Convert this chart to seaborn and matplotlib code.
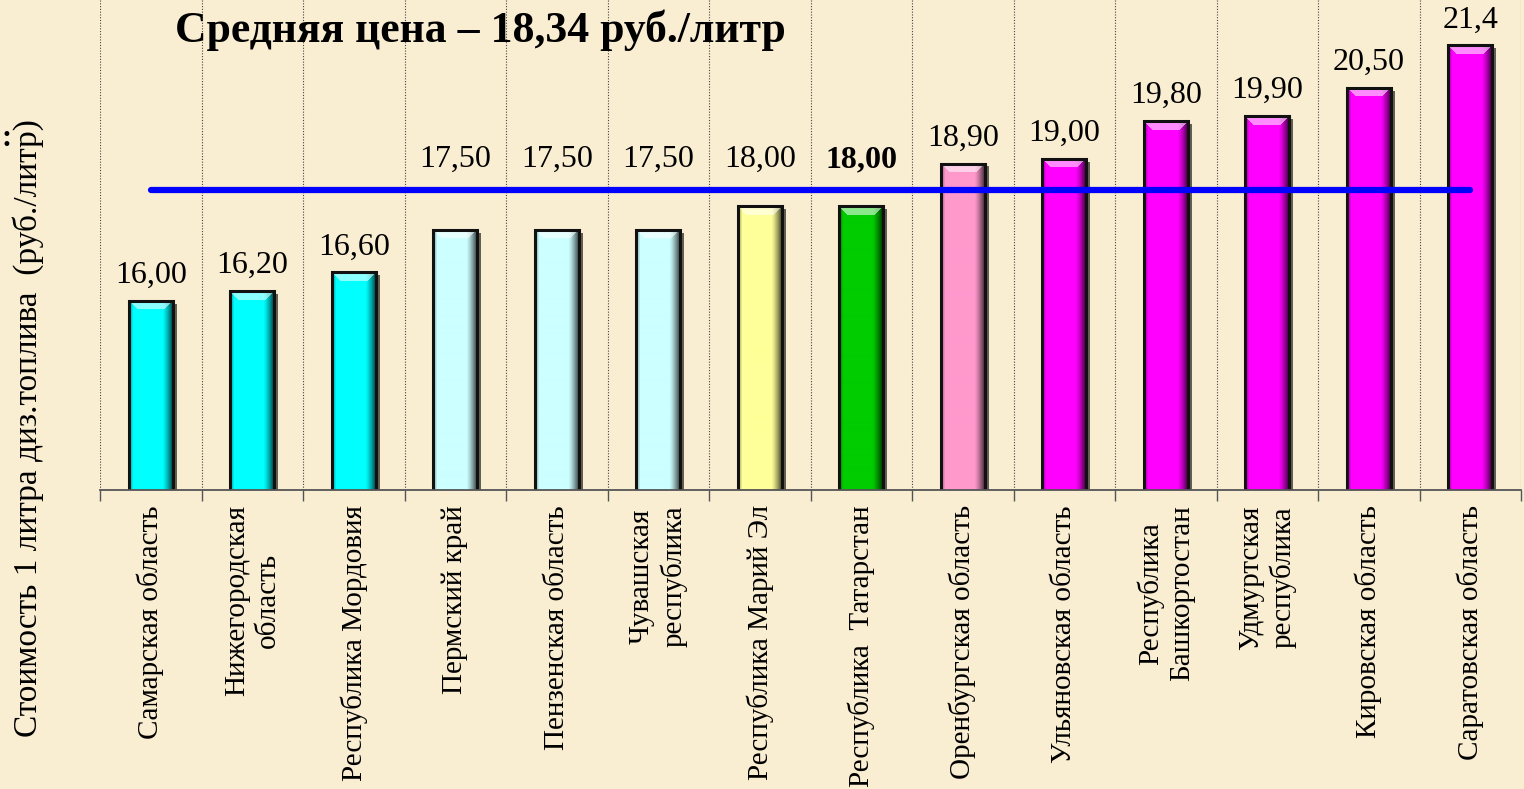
import numpy as np
import matplotlib
matplotlib.use("Agg")
import matplotlib.pyplot as plt
import matplotlib.patheffects as pe
from matplotlib.colors import to_rgb
from matplotlib.patches import Rectangle
import seaborn as sns
import pandas as pd

# ---------------- data ----------------
regions = [
    "Самарская область",
    "Нижегородская\nобласть",
    "Республика Мордовия",
    "Пермский край",
    "Пензенская область",
    "Чувашская\nреспублика",
    "Республика Марий Эл",
    "Республика  Татарстан",
    "Оренбургская область",
    "Ульяновская область",
    "Республика\nБашкортостан",
    "Удмуртская\nреспублика",
    "Кировская область",
    "Саратовская область",
]
prices = [16.00, 16.20, 16.60, 17.50, 17.50, 17.50, 18.00, 18.00,
          18.90, 19.00, 19.80, 19.90, 20.50, 21.40]
price_labels = ["16,00", "16,20", "16,60", "17,50", "17,50", "17,50", "18,00",
                "18,00", "18,90", "19,00", "19,80", "19,90", "20,50", "21,4"]
bar_colors = ["#00FFFF", "#00FFFF", "#00FFFF",
              "#CCFFFF", "#CCFFFF", "#CCFFFF",
              "#FFFF99", "#00CC00", "#FF99CC",
              "#FF00FF", "#FF00FF", "#FF00FF", "#FF00FF", "#FF00FF"]
average_price = 18.34
highlight_region = "Республика  Татарстан"
title_text = "Средняя цена – 18,34 руб./литр"
ylabel_text = "Стоимость 1 литра диз.топлива  (руб./литр)"

# ---------------- style ----------------
sns.set_theme(style="white")
plt.rcParams["font.family"] = ["Liberation Serif", "DejaVu Serif"]
BG = "#F9EDD2"

fig = plt.figure(figsize=(15.24, 7.89), dpi=100, facecolor=BG)
ax = fig.add_axes([100 / 1524, 1 - 490 / 789, 1421 / 1524, 490 / 789])
ax.set_facecolor(BG)

df = pd.DataFrame({"region": regions, "price": prices})
sns.barplot(data=df, x="region", y="price", hue="region", palette=bar_colors,
            legend=False, width=0.43, saturation=1, linewidth=0, ax=ax, zorder=2)

ax.set_xlim(-0.5, len(regions) - 0.5)
ax.set_ylim(12, 22.36)


def shade_bar(patch, color):
    x0, y0 = patch.get_x(), patch.get_y()
    w, h = patch.get_width(), patch.get_height()
    (px0, py0), (px1, py1) = ax.transData.transform([(x0, y0), (x0 + w, y0 + h)])
    W = max(int(round(px1 - px0)), 4)
    H = max(int(round(py1 - py0)), 4)
    base = np.array(to_rgb(color))
    img = np.tile(base, (H, W, 1)).astype(float)
    cols = np.arange(W)
    rows = np.arange(H)
    b = 9
    right = np.clip((cols - (W - 11)) / 11, 0, 1) ** 1.3
    left = np.clip((4 - cols) / 4, 0, 1)
    img *= (1 - 0.8 * right)[None, :, None]
    img *= (1 - 0.35 * left)[None, :, None]
    R, C = np.meshgrid(rows, cols, indexing="ij")
    top = (R < b) & (C >= R) & (C <= W - 1 - R)
    img[top] = img[top] * 0.45 + 0.55
    rb = H - 1 - R
    bot = (rb < b) & (C >= rb) & (C <= W - 1 - rb)
    img[bot] = img[bot] * 0.8
    img = np.clip(img, 0, 1)
    ax.imshow(img, extent=(x0, x0 + w, y0, y0 + h), origin="upper",
              aspect="auto", zorder=2.1, interpolation="bilinear")
    ax.add_patch(Rectangle((x0, y0), w, h, fill=False, edgecolor="#111111",
                           linewidth=2.2, zorder=2.2))


for patch, col in zip(ax.patches[:len(prices)], bar_colors):
    patch.set_facecolor(col)
    patch.set_path_effects([pe.SimplePatchShadow(offset=(3, -2),
                                                 shadow_rgbFace="#000000",
                                                 alpha=0.6), pe.Normal()])
    shade_bar(patch, col)

ax.set_xlim(-0.5, len(regions) - 0.5)
ax.set_ylim(12, 22.36)

# average line
ax.plot([0, len(regions) - 1], [average_price, average_price], color="#0000FF",
        linewidth=4.5, solid_capstyle="round", zorder=3)

# value labels
for i, (v, lab, reg) in enumerate(zip(prices, price_labels, regions)):
    weight = "bold" if reg == highlight_region else "normal"
    lo = v + 0.38
    hi = v + 0.85
    if lo < average_price + 0.12 and hi > average_price - 0.12:
        ax.annotate(lab, (i, average_price), xytext=(0, 16.5),
                    textcoords="offset points", ha="center", va="baseline",
                    fontsize=23, fontweight=weight, color="black", zorder=4)
    else:
        ax.annotate(lab, (i, v), xytext=(0, 13),
                    textcoords="offset points", ha="center", va="baseline",
                    fontsize=23, fontweight=weight, color="black", zorder=4)

# axes decoration
ax.set_xlabel("")
ax.set_ylabel("")
ax.set_yticks([])
ax.set_xticks(range(len(regions)))
ax.set_xticklabels(regions, rotation=90, ha="center", va="top",
                   multialignment="center", fontsize=21, linespacing=1.25)
ax.set_xticks(np.arange(-0.5, len(regions), 1), minor=True)
ax.tick_params(axis="x", which="major", length=0, pad=11, colors="black")
ax.tick_params(axis="x", which="minor", length=8, width=1, color="#555555",
               direction="out", bottom=True)
ax.grid(False)
ax.grid(True, which="minor", axis="x", color="#444444",
        linestyle=(0, (1, 1.5)), linewidth=0.8, zorder=0)
ax.set_axisbelow(True)
for s in ["top", "right", "left"]:
    ax.spines[s].set_visible(False)
ax.spines["bottom"].set_color("#555555")
ax.spines["bottom"].set_linewidth(1.3)

fig.text(480 / 1524, 1 - 30 / 789, title_text, ha="center", va="center",
         fontsize=31.5, fontweight="bold", color="black")
fig.text(28 / 1524, 1 - 428 / 789, ylabel_text, rotation=90, ha="center",
         va="center", fontsize=24, color="black")
fig.text(1 / 1524, 1 - 138 / 789, ":", ha="left", va="center",
         fontsize=22, fontweight="bold", color="black")

fig.savefig("out.png", dpi=100, facecolor=BG)
